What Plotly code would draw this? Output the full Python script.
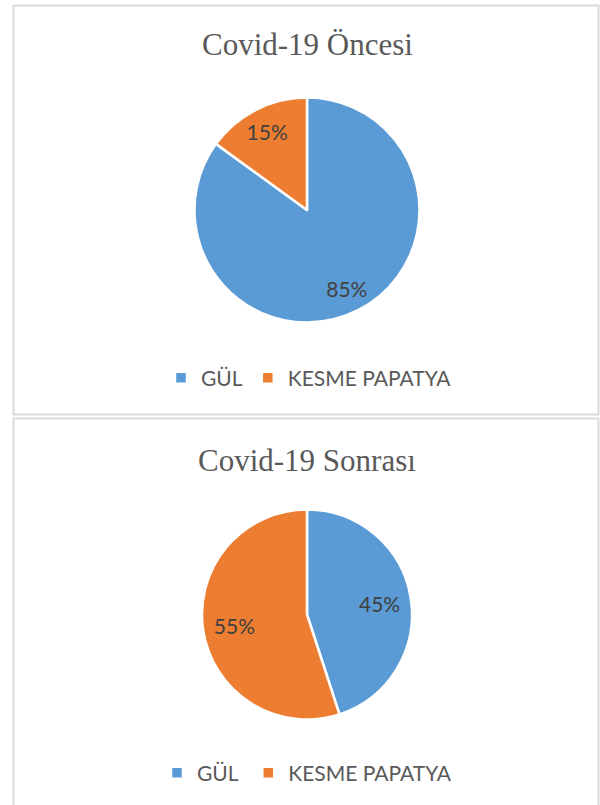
import plotly.graph_objects as go

W, H = 600, 805

labels = ['GÜL', 'KESME PAPATYA']
# second chart gets its own legend, so its labels need distinct keys
labels_after = ['GÜL ', 'KESME PAPATYA ']
before_values = [85, 15]
after_values = [45, 55]
colors = ['#5B9BD5', '#ED7D31']

title_before = 'Covid-19 Öncesi'
title_after = 'Covid-19 Sonrası'


def px_x(x):
    return x / W


def px_y(y):
    return 1 - y / H


def add_pie(fig, lbls, vals, dom, legend, hole):
    # visible pie, no text
    fig.add_trace(go.Pie(
        labels=lbls, values=vals, sort=False, direction='clockwise', rotation=0,
        marker=dict(colors=colors, line=dict(color='white', width=2.5)),
        textinfo='none', domain=dom, legend=legend, hoverinfo='label+percent',
    ))
    # transparent donut on top, only used to push the % labels outwards like excel does
    fig.add_trace(go.Pie(
        labels=lbls, values=vals, sort=False, direction='clockwise', rotation=0, hole=hole,
        marker=dict(colors=['rgba(0,0,0,0)'] * len(vals), line=dict(width=0)),
        textinfo='percent', textposition='inside', insidetextorientation='horizontal',
        texttemplate='%{percent:.0%}',
        textfont=dict(family='Lato', size=21, color='#404040'),
        domain=dom, showlegend=False, hoverinfo='skip',
    ))


fig = go.Figure()

add_pie(fig, labels, before_values,
        dict(x=[px_x(194.5), px_x(419.5)], y=[px_y(322.5), px_y(97.5)]), 'legend', 0.56)
add_pie(fig, labels_after, after_values,
        dict(x=[px_x(202), px_x(412)], y=[px_y(719.5), px_y(509.5)]), 'legend2', 0.4)

legend_style = dict(orientation='h', xanchor='center', yanchor='middle', x=px_x(309),
                    font=dict(family='Lato', size=21, color='#595959'),
                    bgcolor='rgba(0,0,0,0)', itemwidth=30, tracegroupgap=0)

fig.update_layout(
    width=W, height=H,
    margin=dict(l=0, r=0, t=0, b=0),
    paper_bgcolor='white', plot_bgcolor='white',
    legend=dict(legend_style, y=px_y(378)),
    legend2=dict(legend_style, y=px_y(773)),
    annotations=[
        dict(text=title_before, x=px_x(307), y=px_y(45), xref='paper', yref='paper',
             showarrow=False, xanchor='center', yanchor='middle',
             font=dict(family='Liberation Serif', size=31, color='#595959')),
        dict(text=title_after, x=px_x(307), y=px_y(460), xref='paper', yref='paper',
             showarrow=False, xanchor='center', yanchor='middle',
             font=dict(family='Liberation Serif', size=31, color='#595959')),
    ],
    shapes=[
        dict(type='rect', xref='paper', yref='paper', x0=px_x(13.5), x1=px_x(598.5),
             y0=px_y(414.5), y1=px_y(5.5), line=dict(color='#D9D9D9', width=2)),
        dict(type='rect', xref='paper', yref='paper', x0=px_x(13.5), x1=px_x(598.5),
             y0=px_y(812), y1=px_y(418.5), line=dict(color='#D9D9D9', width=2)),
    ],
)

fig.write_html("out.html", config={'displayModeBar': False},
               post_script="document.body.style.margin='0';document.body.style.overflow='hidden';")
